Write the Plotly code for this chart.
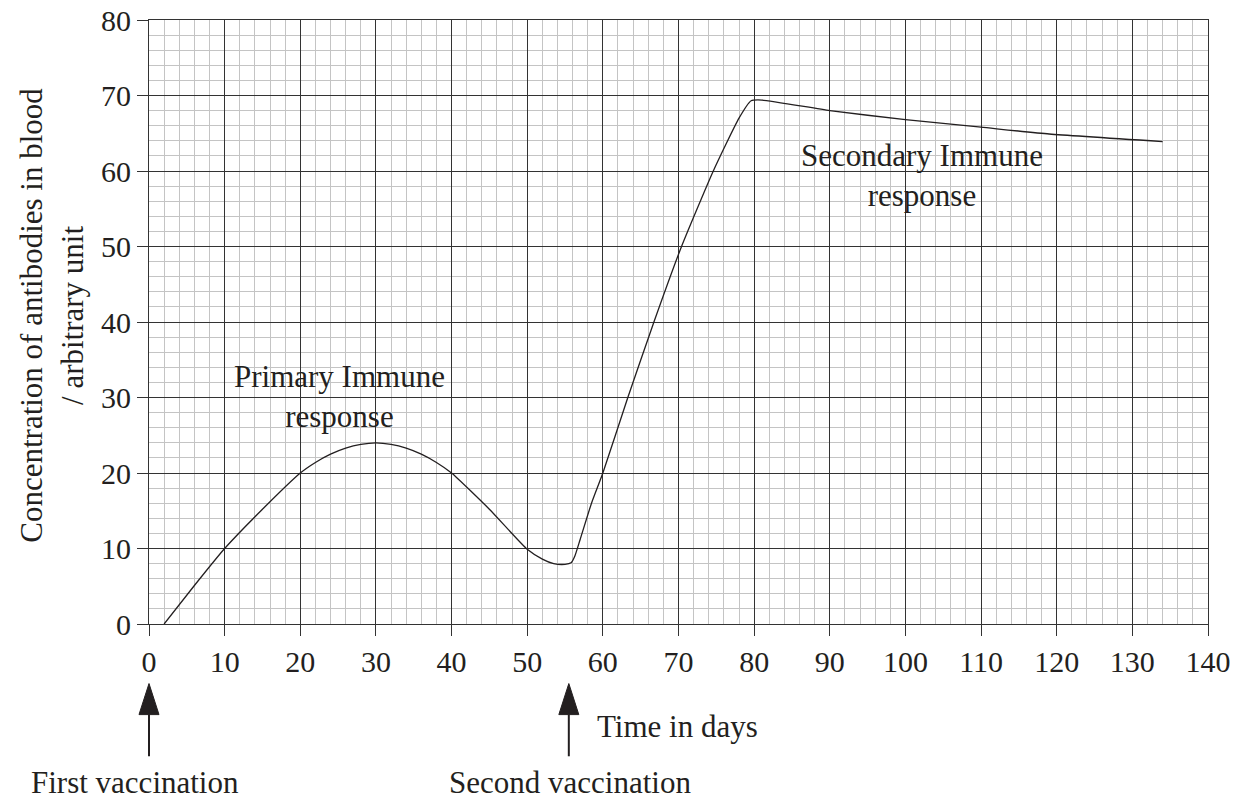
import plotly.graph_objects as go

# Antibody concentration curve
days = [2, 6, 10, 15, 20, 22, 24, 26, 28, 30, 32, 34, 36, 38, 40, 45, 50, 52, 53.5, 55,
        55.8, 56.3, 57, 58.5, 60, 63.3, 66.75, 70.4, 74.6, 78, 79.6, 81, 90, 100, 110, 119, 134]
conc = [0, 5.1, 10, 15.2, 20, 21.4, 22.5, 23.3, 23.8, 24, 23.8, 23.3, 22.5, 21.4, 20, 15.2,
        9.9, 8.6, 8.0, 7.9, 8.1, 9.0, 11.2, 16.0, 20, 30, 40, 50, 60, 67, 69.3, 69.4, 68,
        66.8, 65.8, 64.9, 63.9]

x_ticks = list(range(0, 141, 10))
y_ticks = list(range(0, 81, 10))
X_MAX = 140
vaccination_days = [0, 55.5]
vaccination_labels = ["First vaccination", "Second vaccination"]
vaccination_label_x = [-1.9, 55.6]

FONT = "Liberation Serif, Times New Roman, serif"
INK = "#231f20"
MAJOR = "#333333"
MINOR = "#c4c4c4"

fig = go.Figure()
fig.add_trace(go.Scatter(
    x=days, y=conc, mode="lines",
    line=dict(color=INK, width=1.3, shape="spline", smoothing=0.5),
    hoverinfo="skip", showlegend=False,
))

axis_common = dict(
    showgrid=True, gridcolor=MAJOR, gridwidth=1.2, automargin=False,
    zeroline=False, showline=True, linecolor=MAJOR, linewidth=1.2, mirror=True,
    ticks="outside", ticklen=11, tickcolor=MAJOR, tickwidth=1.2,
    tickfont=dict(family=FONT, size=30, color=INK), ticklabeloverflow="allow",
    minor=dict(dtick=2, showgrid=True, gridcolor=MINOR, gridwidth=1.4, ticks=""),
    fixedrange=True,
)

fig.update_xaxes(range=[0, X_MAX], tickvals=x_ticks, ticktext=[str(v) for v in x_ticks], **axis_common)
fig.update_yaxes(range=[0, 80], tickvals=y_ticks, ticktext=[str(v) for v in y_ticks], **axis_common)

def paper_x(day):
    return day / X_MAX

annotations = [
    dict(x=25.2, y=30.1, xref="x", yref="y", text="Primary Immune<br>response",
         showarrow=False, font=dict(family=FONT, size=31, color=INK),
         xanchor="center", yanchor="middle"),
    dict(x=102.2, y=59.4, xref="x", yref="y", text="Secondary Immune<br>response",
         showarrow=False, font=dict(family=FONT, size=31, color=INK),
         xanchor="center", yanchor="middle"),
    dict(x=paper_x(69.9), y=-0.170, xref="paper", yref="paper", text="Time in days",
         showarrow=False, font=dict(family=FONT, size=31, color=INK),
         xanchor="center", yanchor="middle"),
    dict(x=-0.0916, y=0.512, xref="paper", yref="paper",
         text="Concentration of antibodies in blood<br>/ arbitrary unit",
         textangle=-90, showarrow=False, font=dict(family=FONT, size=31, color=INK),
         xanchor="center", yanchor="middle"),
]
for lx, lab in zip(vaccination_label_x, vaccination_labels):
    annotations.append(dict(x=paper_x(lx), y=-0.2626, xref="paper", yref="paper", text=lab,
                            showarrow=False, font=dict(family=FONT, size=31, color=INK),
                            xanchor="center", yanchor="middle"))

shapes = []
tip_y, base_y, tail_y = -0.0986, -0.150, -0.219
half_w = 1.32
for vx in vaccination_days:
    cx, l, r = paper_x(vx), paper_x(vx - half_w), paper_x(vx + half_w)
    shapes.append(dict(type="path", xref="paper", yref="paper",
                       path=f"M {cx},{tip_y} L {l},{base_y} L {r},{base_y} Z",
                       fillcolor=INK, line=dict(color=INK, width=1)))
    shapes.append(dict(type="line", xref="paper", yref="paper",
                       x0=cx, x1=cx, y0=base_y, y1=tail_y,
                       line=dict(color=INK, width=2)))

fig.update_layout(
    width=1246, height=799,
    margin=dict(l=149, r=38, t=20, b=174.7, autoexpand=False),
    paper_bgcolor="white", plot_bgcolor="white",
    annotations=annotations, shapes=shapes,
    showlegend=False,
)

# Remove the default page body margin so the figure fills the window exactly.
fig.write_html("out.html", config={"displayModeBar": False},
               post_script="document.body.style.margin='0';document.body.style.overflow='hidden';")
